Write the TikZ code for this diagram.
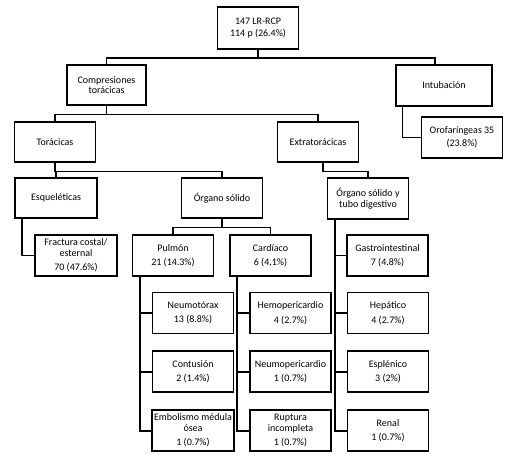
\documentclass[tikz,border=0pt]{standalone}
\usepackage{fontspec}
\setmainfont{Carlito}
\usetikzlibrary{positioning,calc}
\tikzset{
  basebox/.style={rectangle,draw=black,line width=1.8pt,align=center,
    font=\fontsize{10}{10.5}\selectfont,inner sep=2pt,
    minimum width=81pt,minimum height=41pt},
  link/.style={line width=1.8pt,color=black},
  thinlink/.style={line width=0.8pt,color=black}
}

\begin{document}
\begin{tikzpicture}[x=1pt,y=1pt,node distance=16pt]
  \useasboundingbox (0,0) rectangle (532,-458);
  % top levels
  \node[basebox,minimum height=42pt] (root) at (258,-28) {147 LR-RCP\\[1pt]114 p (26.4\%)};
  \node[basebox,minimum width=79pt,minimum height=40pt] (comp) at (106.5,-85) {Compresiones\\tor\'acicas};
  \node[basebox,minimum width=96pt] (intub) at (444,-85.5) {Intubaci\'on};
  \node[basebox,minimum height=40pt] (torac) at (55,-142) {Tor\'acicas};
  \node[basebox,minimum height=40pt] (extra) at (318,-142) {Extrator\'acicas};
  \node[basebox] (oro) at (462,-137.5) {Orofar\'ingeas 35\\[2pt](23.8\%)};
  \node[basebox,minimum width=82pt,minimum height=40pt] (esq) at (56,-198) {Esquel\'eticas};
  \node[basebox,minimum height=40pt] (organo) at (222,-198) {\'Organo s\'olido};
  \node[basebox] (otd) at (368,-198.5) {\'Organo s\'olido y\\tubo digestivo};
  \node[basebox,minimum width=82pt] (fract) at (76,-255.5) {Fractura costal/\\esternal\\[4pt]70 (47.6\%)};
  \node[basebox] (pulmon) at (173,-255.5) {Pulm\'on\\[4pt]21 (14.3\%)};
  \node[basebox] (cardiaco) at (270.5,-255.5) {Card\'iaco\\[4pt]6 (4,1\%)};
  \node[basebox] (gastro) at (387.5,-255.5) {Gastrointestinal\\[4pt]7 (4.8\%)};
  % pulmon
  \node[basebox] (neumo) at (193,-313) {Neumot\'orax\\[4pt]13 (8.8\%)};
  \node[basebox,below=of neumo] (contus) {Contusi\'on\\[4pt]2 (1.4\%)};
  \node[basebox,below=of contus] (embol) {Embolismo m\'edula\\\'osea\\[4pt]1 (0.7\%)};
  % cardiaco
  \node[basebox] (hemo) at (290.5,-313) {Hemopericardio\\[4pt]4 (2.7\%)};
  \node[basebox,below=of hemo] (neumoperi) {Neumopericardio\\[4pt]1 (0.7\%)};
  \node[basebox,below=of neumoperi] (ruptura) {Ruptura\\incompleta\\[4pt]1 (0.7\%)};
  % digestivo
  \node[basebox] (hepat) at (388,-313) {Hep\'atico\\[4pt]4 (2.7\%)};
  \node[basebox,below=of hepat] (esplen) {Espl\'enico\\[4pt]3 (2\%)};
  \node[basebox,below=of esplen] (renal) {Renal\\[4pt]1 (0.7\%)};

  \draw[link] (root.south) -- ++(0,-8) -| (comp.north);
  \draw[link] (root.south) -- ++(0,-8) -| ([xshift=-9pt]intub.north);
  \foreach \a/\b in {comp/torac,comp/extra,torac/esq,torac/organo,organo/pulmon,organo/cardiaco}
    \draw[link] (\a.south) -- ++(0,-8.5) -| (\b.north);
  \draw[link] ([xshift=5pt]extra.south) -- ++(0,-8.5) -| (otd.north);
  \draw[thinlink] ([xshift=7pt]intub.south west) |- (oro.west);
  \foreach \a/\b in {esq/fract,pulmon/neumo,pulmon/contus,pulmon/embol,cardiaco/hemo,cardiaco/neumoperi,cardiaco/ruptura,otd/gastro,otd/hepat,otd/esplen,otd/renal}
    \draw[link] ([xshift=8pt]\a.south west) |- (\b.west);
\end{tikzpicture}
\end{document}
